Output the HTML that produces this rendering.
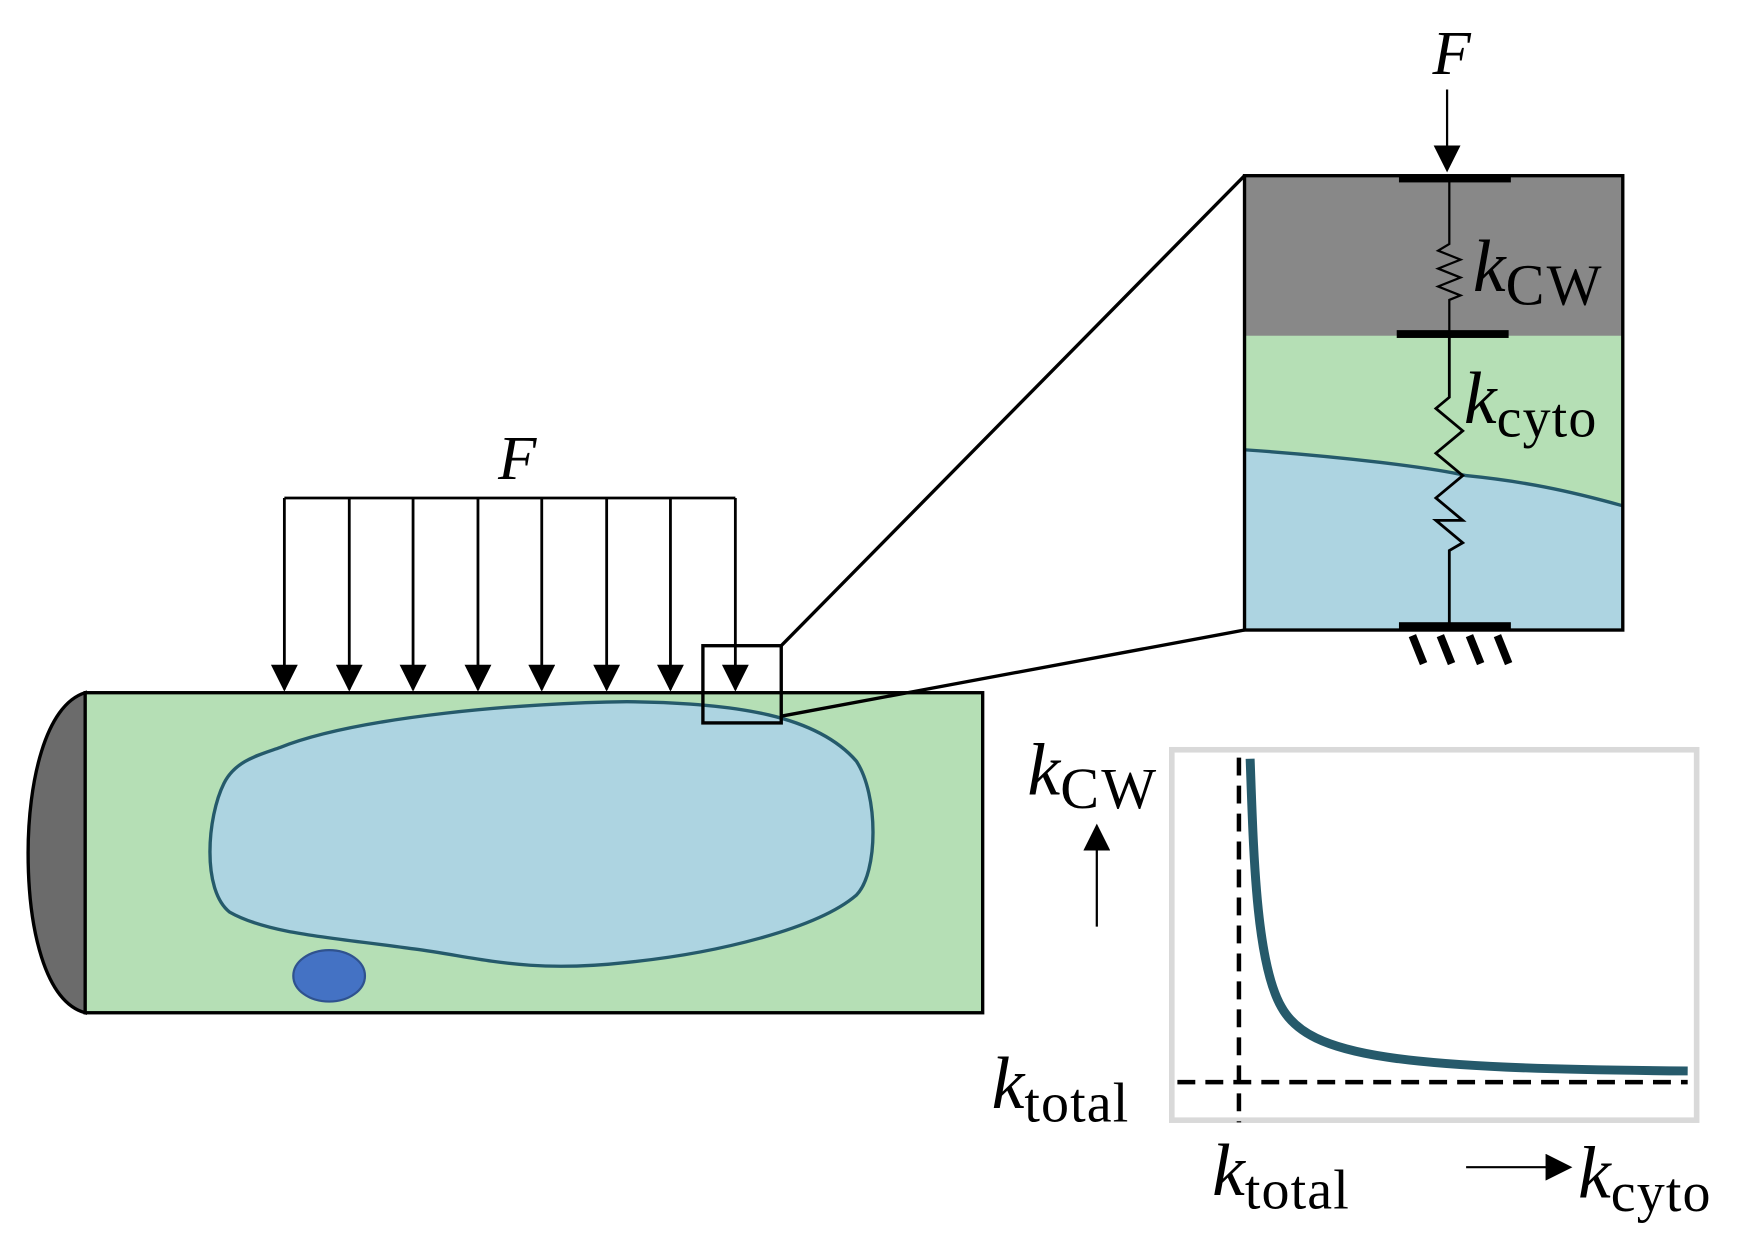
<!DOCTYPE html>
<html><head><meta charset="utf-8"><style>html,body{margin:0;padding:0;background:#fff}svg{display:block}</style></head>
<body>
<svg width="1746" height="1250" viewBox="0 0 1560 1117" xmlns="http://www.w3.org/2000/svg" font-family="Liberation Serif, serif">
<defs>
<marker id="ah2" markerWidth="24" markerHeight="24" refX="22" refY="12" orient="auto" markerUnits="userSpaceOnUse">
<path d="M0,0 L24,12 L0,24 z" fill="#000"/></marker>
</defs>
<path d="M76,619 C40,630 25,700 25,762 C25,830 40,895 76,905 Z" fill="#6b6b6b" stroke="#000" stroke-width="3"/>
<rect x="76" y="619" width="802" height="286" fill="#b5dfb5" stroke="#000" stroke-width="3"/>
<path d="M250,668 C320,640 470,628 560,627 C660,628 730,640 765,680 C785,710 785,780 765,800 C730,830 640,852 560,860 C470,870 430,856 370,848 C300,838 240,835 205,815 C180,795 185,730 200,700 C210,680 230,675 250,668 Z" fill="#add4e1" stroke="#255a6b" stroke-width="3"/>
<ellipse cx="294" cy="872" rx="32" ry="23" fill="#4472c4" stroke="#2f528f" stroke-width="2"/>
<line x1="254" y1="445" x2="657" y2="445" stroke="#000" stroke-width="2.5"/>
<g stroke="#000" stroke-width="2.5" marker-end="url(#ah2)">
<line x1="254" y1="445" x2="254" y2="616"/><line x1="312" y1="445" x2="312" y2="616"/>
<line x1="369" y1="445" x2="369" y2="616"/><line x1="427" y1="445" x2="427" y2="616"/>
<line x1="484" y1="445" x2="484" y2="616"/><line x1="542" y1="445" x2="542" y2="616"/>
<line x1="599" y1="445" x2="599" y2="616"/><line x1="657" y1="445" x2="657" y2="616"/>
</g>
<text x="445" y="428" font-size="56" font-style="italic">F</text>
<rect x="628" y="577" width="70" height="69" fill="none" stroke="#000" stroke-width="3"/>
<line x1="698" y1="577" x2="1112" y2="157" stroke="#000" stroke-width="3"/>
<line x1="698" y1="640" x2="1112" y2="563" stroke="#000" stroke-width="3"/>
<rect x="1112" y="157" width="338" height="144" fill="#888"/>
<rect x="1112" y="300" width="338" height="263" fill="#b5dfb5"/>
<path d="M1113,402 C1200,408 1280,418 1310,425 C1360,430 1400,438 1450,452 L1450,563 L1113,563 Z" fill="#add4e1"/>
<path d="M1113,402 C1200,408 1280,418 1310,425 C1360,430 1400,438 1450,452" fill="none" stroke="#255a6b" stroke-width="3"/>
<rect x="1112" y="157" width="338" height="406" fill="none" stroke="#000" stroke-width="3"/>
<polyline points="1295,160 1295,218 1285,224 1305,232 1285,240 1305,248 1285,256 1305,264 1295,268 1295,298" fill="none" stroke="#000" stroke-width="2"/>
<polyline points="1295,298 1295,355 1283,365 1307,385 1283,405 1307,425 1283,445 1307,465 1283,465 1307,485 1295,492 1295,560" fill="none" stroke="#000" stroke-width="2.5"/>
<rect x="1250" y="156" width="100" height="7" fill="#000"/>
<rect x="1248" y="295" width="100" height="7" fill="#000"/>
<rect x="1250" y="556" width="100" height="7" fill="#000"/>
<g stroke="#000" stroke-width="7"><line x1="1262" y1="568" x2="1272" y2="593"/><line x1="1287" y1="568" x2="1297" y2="593"/><line x1="1313" y1="568" x2="1323" y2="593"/><line x1="1338" y1="568" x2="1348" y2="593"/></g>
<line x1="1293" y1="80" x2="1293" y2="152" stroke="#000" stroke-width="2" marker-end="url(#ah2)"/>
<text x="1280" y="66" font-size="56" font-style="italic">F</text>
<text x="1316" y="260" font-size="66" font-style="italic">k<tspan font-style="normal" font-size="52" dy="12" letter-spacing="2">CW</tspan></text>
<text x="1308" y="378" font-size="66" font-style="italic">k<tspan font-style="normal" font-size="50" dy="12" letter-spacing="1">cyto</tspan></text>
<rect x="1047" y="670" width="469" height="331" fill="#fff" stroke="#d9d9d9" stroke-width="5"/>
<line x1="1107" y1="677" x2="1107" y2="1003" stroke="#000" stroke-width="4" stroke-dasharray="16,9"/>
<line x1="1052" y1="967" x2="1508" y2="967" stroke="#000" stroke-width="4" stroke-dasharray="16,9"/>
<path d="M1117,678 C1120,760 1122,860 1145,900 C1170,945 1250,955 1508,957" fill="none" stroke="#265a6b" stroke-width="8"/>
<text x="918" y="710" font-size="66" font-style="italic">k<tspan font-style="normal" font-size="52" dy="12" letter-spacing="2">CW</tspan></text>
<line x1="980" y1="828" x2="980" y2="738" stroke="#000" stroke-width="2" marker-end="url(#ah2)"/>
<text x="886" y="990" font-size="66" font-style="italic">k<tspan font-style="normal" font-size="50" dy="12" letter-spacing="1">total</tspan></text>
<text x="1083" y="1068" font-size="66" font-style="italic">k<tspan font-style="normal" font-size="50" dy="12" letter-spacing="1">total</tspan></text>
<line x1="1310" y1="1043" x2="1403" y2="1043" stroke="#000" stroke-width="2" marker-end="url(#ah2)"/>
<text x="1410" y="1070" font-size="66" font-style="italic">k<tspan font-style="normal" font-size="50" dy="12" letter-spacing="1">cyto</tspan></text>
</svg>
</body></html>
